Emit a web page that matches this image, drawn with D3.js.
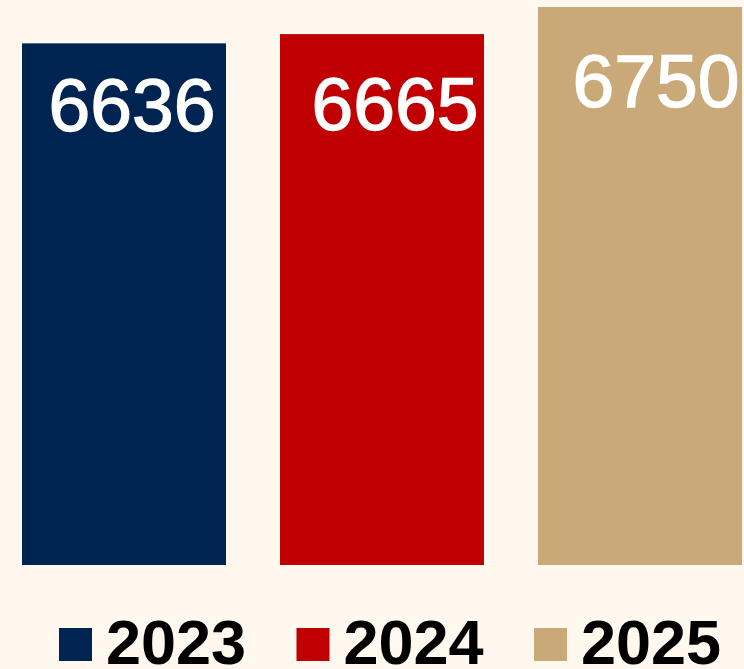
<!DOCTYPE html>
<html>
<head>
<meta charset="utf-8">
<script src="https://cdn.jsdelivr.net/npm/d3@7"></script>
<style>
  html, body { margin: 0; padding: 0; background: #FFF8EE; }
  svg { display: block; }
</style>
</head>
<body>
<svg id="chart" width="744" height="669"></svg>
<script>
const categories = ["2023", "2024", "2025"];
const values = [6636, 6665, 6750];
const colors = ["#002451", "#C00000", "#C9A977"];
const yDomain = [5000, 6750];

const W = 744, H = 669;
const svg = d3.select("#chart");
svg.append("rect").attr("width", W).attr("height", H).attr("fill", "#FFF8EE");

const x = d3.scaleBand().domain(categories).range([22, 742]).paddingInner(54 / 258).paddingOuter(0);
const y = d3.scaleLinear().domain(yDomain).range([565, 7]);

const data = categories.map((c, i) => ({ c, v: values[i], col: colors[i] }));
const labelDx = [8, 13, 16];
const labelDy = [88, 96, 100];

svg.selectAll("rect.bar").data(data).join("rect")
  .attr("class", "bar")
  .attr("x", d => x(d.c))
  .attr("y", d => y(d.v))
  .attr("width", x.bandwidth())
  .attr("height", d => y(yDomain[0]) - y(d.v))
  .attr("fill", d => d.col);

svg.selectAll("text.val").data(data).join("text")
  .attr("class", "val")
  .attr("x", (d, i) => x(d.c) + x.bandwidth() / 2 + labelDx[i])
  .attr("y", (d, i) => y(d.v) + labelDy[i])
  .attr("text-anchor", "middle")
  .attr("font-family", "Liberation Sans, Arial, sans-serif")
  .attr("font-size", 75)
  .attr("fill", "#FFFFFF")
  .attr("stroke", "#FFFFFF")
  .attr("stroke-width", 1.4)
  .text(d => d.v);

// legend
const legX = d3.scalePoint().domain(categories).range([59, 534]);
const leg = svg.selectAll("g.leg").data(data).join("g")
  .attr("class", "leg")
  .attr("transform", d => `translate(${legX(d.c)},0)`);
leg.append("rect").attr("x", 0).attr("y", 628).attr("width", 33).attr("height", 33).attr("fill", d => d.col);
leg.append("text")
  .attr("x", 47).attr("y", 664)
  .attr("font-family", "Liberation Sans, Arial, sans-serif")
  .attr("font-weight", "bold")
  .attr("font-size", 63)
  .attr("fill", "#000")
  .text(d => d.c);
</script>
</body>
</html>
